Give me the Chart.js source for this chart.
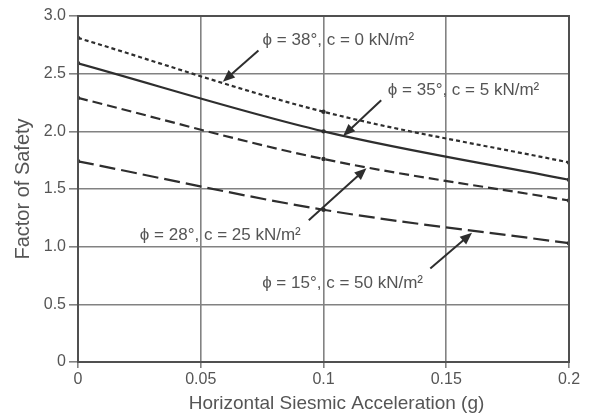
<!DOCTYPE html>
<html lang="en">
<head>
    <meta charset="UTF-8">
    <title>Factor of Safety vs Horizontal Seismic Acceleration</title>
    <style>
        html, body { margin: 0; padding: 0; background: #fff; }
        #wrap { width: 591px; height: 416px; }
    </style>
</head>
<body>
    <div id="wrap"><canvas id="myChart" width="591" height="416"></canvas></div>

    <script src="https://cdn.jsdelivr.net/npm/chart.js"></script>
    <script>
        // data
        var accel = [0, 0.1, 0.2];
        var fs38 = [2.81, 2.17, 1.73];   // phi 38, c 0
        var fs35 = [2.59, 2.00, 1.58];   // phi 35, c 5
        var fs28 = [2.29, 1.76, 1.40];   // phi 28, c 25
        var fs15 = [1.74, 1.32, 1.03];   // phi 15, c 50
        var xTickLabels = ['0', '0.05', '0.1', '0.15', '0.2'];
        var yTickLabels = ['0', '0.5', '1.0', '1.5', '2.0', '2.5', '3.0'];

        var ink = '#2e2e2e';
        var textGrey = '#555';
        var xTitle = 'Horizontal Siesmic Acceleration (g)';

        // labels with arrows, in data units
        var notes = [
            { text: 'ϕ = 38°, c = 0 kN/m²',  x: 0.0752, y: 2.79, from: [0.0735, 2.70], to: [0.059, 2.43] },
            { text: 'ϕ = 35°, c = 5 kN/m²',  x: 0.1262, y: 2.36, from: [0.1235, 2.27], to: [0.108, 1.96] },
            { text: 'ϕ = 28°, c = 25 kN/m²', x: 0.0252, y: 1.10, from: [0.094, 1.23], to: [0.1175, 1.68] },
            { text: 'ϕ = 15°, c = 50 kN/m²', x: 0.0750, y: 0.685, from: [0.1435, 0.81], to: [0.1605, 1.12] }
        ];

        function toPoints(ys) {
            var pts = [];
            for (var i = 0; i < accel.length; i++) {
                pts.push({ x: accel[i], y: ys[i] });
            }
            return pts;
        }

        function lineSet(ys, dash) {
            return {
                data: toPoints(ys),
                borderColor: ink,
                backgroundColor: ink,
                borderWidth: 2.2,
                borderDash: dash,
                pointRadius: 2.2,
                pointBorderWidth: 0,
                cubicInterpolationMode: 'monotone',
                fill: false
            };
        }

        var notePlugin = {
            id: 'notes',
            afterDatasetsDraw: function(chart) {
                var ctx = chart.ctx;
                var xs = chart.scales.x, ys = chart.scales.y;
                ctx.save();
                ctx.font = '17px "Liberation Sans", Arial, sans-serif';
                ctx.textBaseline = 'middle';
                notes.forEach(function(n) {
                    ctx.fillStyle = textGrey;
                    ctx.fillText(n.text, xs.getPixelForValue(n.x), ys.getPixelForValue(n.y));
                    var x1 = xs.getPixelForValue(n.from[0]), y1 = ys.getPixelForValue(n.from[1]);
                    var x2 = xs.getPixelForValue(n.to[0]), y2 = ys.getPixelForValue(n.to[1]);
                    var a = Math.atan2(y2 - y1, x2 - x1);
                    ctx.strokeStyle = ink;
                    ctx.fillStyle = ink;
                    ctx.lineWidth = 2;
                    ctx.beginPath();
                    ctx.moveTo(x1, y1);
                    ctx.lineTo(x2 - 8 * Math.cos(a), y2 - 8 * Math.sin(a));
                    ctx.stroke();
                    ctx.beginPath();
                    ctx.moveTo(x2, y2);
                    ctx.lineTo(x2 - 12 * Math.cos(a) + 5 * Math.sin(a), y2 - 12 * Math.sin(a) - 5 * Math.cos(a));
                    ctx.lineTo(x2 - 12 * Math.cos(a) - 5 * Math.sin(a), y2 - 12 * Math.sin(a) + 5 * Math.cos(a));
                    ctx.closePath();
                    ctx.fill();
                });
                // plot frame
                var ca = chart.chartArea;
                ctx.strokeStyle = '#505050';
                ctx.lineWidth = 2;
                ctx.strokeRect(ca.left, ca.top, ca.right - ca.left, ca.bottom - ca.top);
                // x axis title, sits a little right of centre in the original
                ctx.font = '19px "Liberation Sans", Arial, sans-serif';
                ctx.fillStyle = textGrey;
                ctx.textAlign = 'center';
                ctx.fillText(xTitle, (ca.left + ca.right) / 2 + 13, 404);
                ctx.restore();
            }
        };

        Chart.defaults.font.family = '"Liberation Sans", Arial, sans-serif';
        Chart.defaults.color = textGrey;

        var ctx = document.getElementById('myChart').getContext('2d');
        var chart = new Chart(ctx, {
            type: 'line',
            data: {
                datasets: [
                    lineSet(fs38, [4, 3]),
                    lineSet(fs35, []),
                    lineSet(fs28, [10, 5]),
                    lineSet(fs15, [16, 6])
                ]
            },
            options: {
                responsive: false,
                animation: false,
                layout: { padding: { top: 16, right: 22, left: 0, bottom: 0 } },
                plugins: {
                    legend: { display: false },
                    tooltip: { enabled: false }
                },
                scales: {
                    x: {
                        type: 'linear',
                        min: 0, max: 0.2,
                        afterBuildTicks: function(s) {
                            s.ticks = xTickLabels.map(function(t) { return { value: parseFloat(t) }; });
                        },
                        afterFit: function(s) { s.height = 54; },
                        ticks: {
                            font: { size: 16 },
                            color: textGrey,
                            padding: 2,
                            maxRotation: 0,
                            callback: function(v, i) { return xTickLabels[i]; }
                        },
                        grid: { color: '#828282', lineWidth: 1.6, tickLength: 6, drawTicks: true },
                        border: { display: false }
                    },
                    y: {
                        min: 0, max: 3,
                        afterBuildTicks: function(s) {
                            s.ticks = yTickLabels.map(function(t) { return { value: parseFloat(t) }; });
                        },
                        afterFit: function(s) { s.width = 78; },
                        ticks: {
                            font: { size: 16 },
                            color: textGrey,
                            padding: 3,
                            callback: function(v, i) { return yTickLabels[i]; }
                        },
                        grid: { color: '#828282', lineWidth: 1.6, tickLength: 9, drawTicks: true },
                        border: { display: false },
                        title: {
                            display: true,
                            text: 'Factor of Safety',
                            font: { size: 20 },
                            color: textGrey,
                            padding: { top: 11, bottom: 0 }
                        }
                    }
                }
            },
            plugins: [notePlugin]
        });
    </script>
</body>
</html>
